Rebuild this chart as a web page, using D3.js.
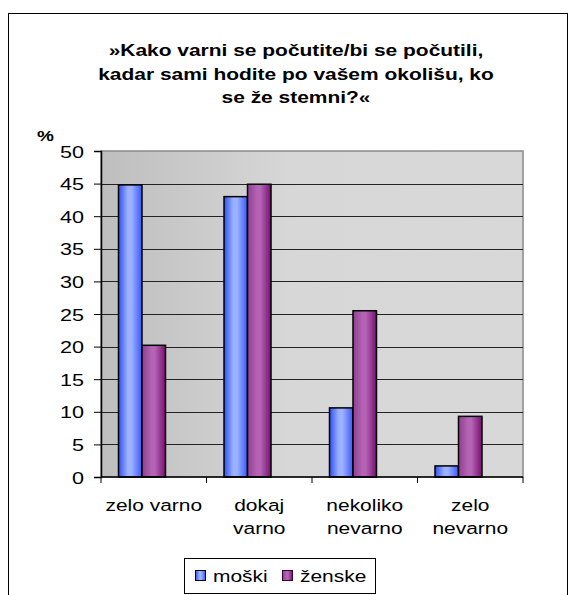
<!DOCTYPE html>
<html>
<head>
<meta charset="utf-8">
<script src="https://cdn.jsdelivr.net/npm/d3@7"></script>
<style>
  body { margin: 0; background: #fff; }
  text { font-family: "Liberation Sans", Arial, sans-serif; }
</style>
</head>
<body>
<div id="chart"></div>
<script>
// data
var categories = [['zelo varno'], ['dokaj', 'varno'], ['nekoliko', 'nevarno'], ['zelo', 'nevarno']];
var seriesNames = ['moški', 'ženske'];
var moski = [44.8, 43.0, 10.6, 1.7];
var zenske = [20.2, 44.9, 25.5, 9.3];
var yTicks = [0, 5, 10, 15, 20, 25, 30, 35, 40, 45, 50];
var titleLines = ['»Kako varni se počutite/bi se počutili,', 'kadar sami hodite po vašem okolišu, ko', 'se že stemni?«'];

var W = 576, H = 595;
var plot = {left: 101, right: 523, top: 151, bottom: 477};
// the original picture is stretched sideways, so text is too
var stretch = 1.27;

var svg = d3.select('#chart').append('svg')
    .attr('width', W)
    .attr('height', H);

var defs = svg.append('defs');

// plot background gradient
var bg = defs.append('linearGradient').attr('id', 'bg').attr('x1', '0').attr('x2', '1');
bg.append('stop').attr('offset', '0%').attr('stop-color', '#bebebe');
bg.append('stop').attr('offset', '45%').attr('stop-color', '#d7d7d7');
bg.append('stop').attr('offset', '100%').attr('stop-color', '#d8d8d8');

var gradColors = [
  ['#2f4ff5', '#9db2ff', '#3a58f8'],
  ['#8e3f8e', '#b563b5', '#761070']
];
gradColors.forEach(function(c, i) {
  var g = defs.append('linearGradient').attr('id', 'bar' + i).attr('x1', '0').attr('x2', '1');
  g.append('stop').attr('offset', '0%').attr('stop-color', c[0]);
  g.append('stop').attr('offset', '40%').attr('stop-color', c[1]);
  g.append('stop').attr('offset', '55%').attr('stop-color', c[1]);
  g.append('stop').attr('offset', '100%').attr('stop-color', c[2]);
});

// helper: stretched text anchored at (x, y)
function addText(parent, x, y, str, size, anchor, bold) {
  return parent.append('text')
      .attr('transform', 'translate(' + x + ',' + y + ') scale(' + stretch + ',1)')
      .attr('text-anchor', anchor)
      .attr('font-size', size + 'px')
      .attr('font-weight', bold ? 'bold' : 'normal')
      .attr('fill', '#000')
      .text(str);
}

// outer frame
svg.append('rect')
    .attr('x', 8.5).attr('y', 13.5)
    .attr('width', 559).attr('height', 620)
    .attr('fill', 'none')
    .attr('stroke', '#000')
    .attr('stroke-width', 1);

// title
titleLines.forEach(function(line, i) {
  addText(svg, 296, 56 + i * 23.5, line, 16.5, 'middle', true);
});

// scales
var x0 = d3.scaleBand()
    .domain(d3.range(categories.length))
    .range([plot.left, plot.right]);

// three slots per group, the third one left empty as in the original
var x1 = d3.scaleBand()
    .domain([0, 1, 2])
    .range([0, x0.bandwidth()])
    .paddingOuter(0.745);

var y = d3.scaleLinear().domain([0, 50]).range([plot.bottom, plot.top]);

// plot area
svg.append('rect')
    .attr('x', plot.left).attr('y', plot.top)
    .attr('width', plot.right - plot.left)
    .attr('height', plot.bottom - plot.top)
    .attr('fill', 'url(#bg)')
    .attr('stroke', '#8a8a8a')
    .attr('stroke-width', 1.5);

// gridlines
svg.append('g')
    .selectAll('line')
    .data(yTicks.filter(function(d) { return d > 0 && d < 50; }))
    .enter().append('line')
    .attr('x1', plot.left).attr('x2', plot.right)
    .attr('y1', function(d) { return Math.round(y(d)) + 0.5; })
    .attr('y2', function(d) { return Math.round(y(d)) + 0.5; })
    .attr('stroke', '#222')
    .attr('stroke-width', 1.2);

// bars
var seriesData = [moski, zenske];
seriesData.forEach(function(vals, s) {
  svg.append('g')
      .selectAll('rect')
      .data(vals)
      .enter().append('rect')
      .attr('x', function(d, i) { return x0(i) + x1(s); })
      .attr('y', function(d) { return y(d); })
      .attr('width', x1.bandwidth())
      .attr('height', function(d) { return plot.bottom - y(d); })
      .attr('fill', 'url(#bar' + s + ')')
      .attr('stroke', '#000')
      .attr('stroke-width', 1.5);
});

// y axis
var yAxis = svg.append('g')
    .attr('transform', 'translate(' + plot.left + ',0)')
    .call(d3.axisLeft(y).tickValues(yTicks).tickSize(7));
yAxis.select('.domain').attr('stroke', '#000').attr('stroke-width', 1.5);
yAxis.selectAll('.tick text').remove();
yAxis.selectAll('.tick').each(function(d) {
  addText(d3.select(this), -17, 6, d, 17, 'end', false);
});

addText(svg, 37, 141, '%', 15, 'start', true);

// x axis line and ticks between groups
var bounds = d3.range(categories.length + 1).map(function(i) {
  return i < categories.length ? x0(i) : plot.right;
});
svg.append('line')
    .attr('x1', plot.left).attr('x2', plot.right)
    .attr('y1', plot.bottom).attr('y2', plot.bottom)
    .attr('stroke', '#000').attr('stroke-width', 1.5);
svg.append('g')
    .selectAll('line')
    .data(bounds)
    .enter().append('line')
    .attr('x1', function(d) { return d; })
    .attr('x2', function(d) { return d; })
    .attr('y1', plot.bottom)
    .attr('y2', plot.bottom + 6)
    .attr('stroke', '#000');

// category labels
var catG = svg.append('g');
categories.forEach(function(lines, i) {
  var cx = x0(i) + x0.bandwidth() / 2;
  lines.forEach(function(t, j) {
    addText(catG, cx, 511 + j * 23, t, 16.5, 'middle', false);
  });
});

// legend
var legend = svg.append('g');
legend.append('rect')
    .attr('x', 184.5).attr('y', 558.5)
    .attr('width', 191).attr('height', 35)
    .attr('fill', '#fff')
    .attr('stroke', '#000');
var legendX = [195, 282];
seriesNames.forEach(function(name, i) {
  legend.append('rect')
      .attr('x', legendX[i] + 0.5).attr('y', 570.5)
      .attr('width', 10).attr('height', 10)
      .attr('fill', 'url(#bar' + i + ')')
      .attr('stroke', i === 0 ? '#000' : '#3a0030');
  addText(legend, legendX[i] + 18, 582, name, 16.5, 'start', false);
});
</script>
</body>
</html>
